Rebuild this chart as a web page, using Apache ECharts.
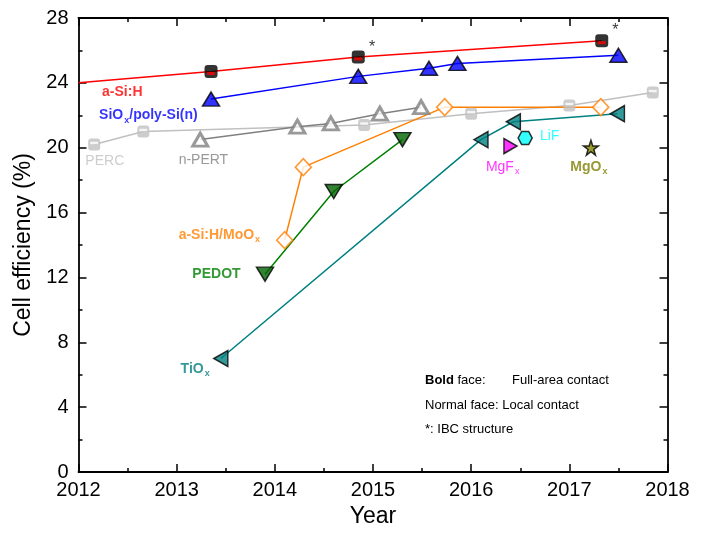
<!DOCTYPE html>
<html>
<head>
<meta charset="utf-8">
<script src="https://cdn.jsdelivr.net/npm/echarts@6/dist/echarts.min.js"></script>
<style>html,body{margin:0;padding:0;background:#fff;}#c{width:705px;height:533px;}</style>
</head>
<body>
<div id="c"></div>
<script>
// ---- data ----
const aSiHStart = [2012, 24.0];
const aSiH = [[2013.35, 24.7], [2014.85, 25.6], [2017.33, 26.6]];
const siox = [[2013.35, 23.0], [2014.85, 24.4], [2015.57, 24.9], [2015.86, 25.2], [2017.50, 25.7]];
const perc = [[2012.16, 20.2], [2012.66, 21.0], [2014.91, 21.4], [2016.0, 22.1], [2017.0, 22.6], [2017.85, 23.4]];
const npert = [[2013.24, 20.5], [2014.23, 21.3], [2014.57, 21.5], [2015.07, 22.1], [2015.49, 22.5]];
const moox = [[2014.10, 14.3], [2014.29, 18.8], [2015.73, 22.5], [2017.32, 22.5]];
const pedot = [[2013.90, 12.2], [2014.60, 17.3], [2015.30, 20.5]];
const tiox = [[2013.45, 7.0], [2016.10, 20.5], [2016.43, 21.6], [2017.49, 22.1]];
const mgfx = [[2016.40, 20.1]];
const lif = [[2016.55, 20.6]];
const mgox = [[2017.22, 20.0]];
const ibcMarks = [[2014.99, 26.2], [2017.47, 27.2]];
const yearTicks = [2012, 2013, 2014, 2015, 2016, 2017, 2018];
const effTicks = [0, 4, 8, 12, 16, 20, 24, 28];

// label anchors (left edge, vertical centre) in data coords
const seriesLabels = [
  { text: 'a-Si:H', at: [2012.24, 23.45], color: '#ff0000', bold: true },
  { text: 'SiO{s|x}/poly-Si(n)', at: [2012.21, 21.98], color: '#0000ff', bold: true },
  { text: 'PERC', at: [2012.07, 19.16], color: '#c0c0c0', bold: false },
  { text: 'n-PERT', at: [2013.02, 19.26], color: '#808080', bold: false },
  { text: 'a-Si:H/MoO{s|x}', at: [2013.02, 14.62], color: '#ff8000', bold: true },
  { text: 'PEDOT', at: [2013.16, 12.21], color: '#008000', bold: true },
  { text: 'TiO{s|x}', at: [2013.04, 6.34], color: '#008080', bold: true },
  { text: 'MgF{s|x}', at: [2016.15, 18.79], color: '#ff00ff', bold: false },
  { text: 'LiF', at: [2016.70, 20.69], color: '#00ffff', bold: false },
  { text: 'MgO{s|x}', at: [2017.01, 18.79], color: '#808000', bold: true }
];

const FONT = '"Liberation Sans", Arial, sans-serif';
const chart = echarts.init(document.getElementById('c'));

function lineSeries(data, color) {
  return { type: 'line', data: data, symbol: 'none', lineStyle: { color: color, width: 1.5 }, z: 2, animation: false };
}
function markSeries(data, opts) {
  return Object.assign({ type: 'scatter', data: data, z: 5, animation: false }, opts);
}

const hexPath = 'path://M5,0 L15,0 L20,8.66 L15,17.32 L5,17.32 L0,8.66 Z';
const starPath = 'path://M50,0 L61.8,35.1 L98.5,35.1 L68.8,57.1 L79.4,92.3 L50,71 L20.6,92.3 L31.2,57.1 L1.5,35.1 L38.2,35.1 Z';

const series = [
  lineSeries([aSiHStart].concat(aSiH), '#ff0000'),
  lineSeries(siox, '#0000ff'),
  lineSeries(perc, '#c0c0c0'),
  lineSeries(npert, '#808080'),
  lineSeries(moox, '#ff8000'),
  lineSeries(pedot, '#008000'),
  lineSeries(tiox, '#008080'),
  // a-Si:H markers
  markSeries(aSiH, { symbol: 'roundRect', symbolSize: 13, itemStyle: { color: '#000' } }),
  markSeries(aSiH, { symbol: 'rect', symbolSize: [8, 3], symbolOffset: [0, 2], itemStyle: { color: '#ff0000' }, z: 6 }),
  // SiOx
  markSeries(siox, { symbol: 'triangle', symbolSize: [17, 14], itemStyle: { color: '#0000ff', borderColor: '#000', borderWidth: 1.5 } }),
  // PERC
  markSeries(perc, { symbol: 'roundRect', symbolSize: 12, itemStyle: { color: '#c0c0c0' } }),
  markSeries(perc, { symbol: 'rect', symbolSize: [8, 2.5], symbolOffset: [0, -1.5], itemStyle: { color: '#ffffff' }, z: 6 }),
  // n-PERT
  markSeries(npert, { symbol: 'triangle', symbolSize: [15, 13], itemStyle: { color: '#ffffff', borderColor: '#808080', borderWidth: 3 } }),
  // MoOx
  markSeries(moox, { symbol: 'diamond', symbolSize: [16, 17], itemStyle: { color: '#ffffff', borderColor: '#ff8000', borderWidth: 1.6 } }),
  // PEDOT
  markSeries(pedot, { symbol: 'triangle', symbolRotate: 180, symbolSize: [17, 14], itemStyle: { color: '#006400', borderColor: '#000', borderWidth: 1.5 } }),
  // TiOx
  markSeries(tiox, { symbol: 'triangle', symbolRotate: 90, symbolSize: [16, 14], itemStyle: { color: '#008080', borderColor: '#000', borderWidth: 1.5 } }),
  // MgFx
  markSeries(mgfx, { symbol: 'triangle', symbolRotate: -90, symbolSize: [15, 13], itemStyle: { color: '#ff00ff', borderColor: '#000', borderWidth: 1.5 } }),
  // LiF
  markSeries(lif, { symbol: hexPath, symbolSize: [14, 13], itemStyle: { color: '#00ffff', borderColor: '#000', borderWidth: 1.5 } }),
  // MgOx
  markSeries(mgox, { symbol: starPath, symbolSize: 15, itemStyle: { color: '#808000', borderColor: '#000', borderWidth: 1.5 } }),
  // IBC asterisks
  markSeries(ibcMarks, { symbolSize: 0, label: { show: true, position: 'inside', formatter: '*', color: '#000', fontSize: 16, fontFamily: FONT } }),
  // text labels
  {
    type: 'scatter', symbolSize: 0, z: 7, animation: false,
    data: seriesLabels.map(function (l) {
      return {
        value: l.at,
        label: {
          show: true, position: 'right', distance: 0,
          formatter: l.text,
          color: l.color, fontSize: 14, fontWeight: l.bold ? 'bold' : 'normal', fontFamily: FONT,
          lineHeight: 16,
          rich: { s: { fontSize: 9, color: l.color, fontWeight: l.bold ? 'bold' : 'normal', fontFamily: FONT, padding: [9, 0, 0, 1], lineHeight: 10 } }
        }
      };
    })
  }
];

const axisLineStyle = { color: '#000', width: 1.8 };
const tickStyle = { color: '#000', width: 1.5 };
chart.setOption({
  backgroundColor: '#fff',
  animation: false,
  grid: { left: 78.5, right: 37.5, top: 18, bottom: 59.5, containLabel: false },
  xAxis: [
    {
      type: 'value', min: yearTicks[0], max: yearTicks[yearTicks.length - 1], interval: 1,
      name: 'Year', nameLocation: 'middle', nameGap: 33,
      nameTextStyle: { fontSize: 23, fontFamily: FONT, color: '#000' },
      axisLine: { show: true, onZero: false, lineStyle: axisLineStyle },
      axisTick: { show: true, inside: true, length: 8, lineStyle: tickStyle },
      minorTick: { show: true, splitNumber: 2, length: 4, lineStyle: tickStyle },
      axisLabel: { fontSize: 20, fontFamily: FONT, color: '#000', margin: 8, formatter: function (v) { return String(v); } },
      splitLine: { show: false }
    },
    {
      type: 'value', position: 'top', min: yearTicks[0], max: yearTicks[yearTicks.length - 1], interval: 1,
      axisLine: { show: true, onZero: false, lineStyle: axisLineStyle },
      axisTick: { show: true, inside: true, length: 8, lineStyle: tickStyle },
      minorTick: { show: true, splitNumber: 2, length: 4, lineStyle: tickStyle },
      axisLabel: { show: false }, splitLine: { show: false }
    }
  ],
  yAxis: [
    {
      type: 'value', min: effTicks[0], max: effTicks[effTicks.length - 1], interval: 4,
      name: 'Cell efficiency (%)', nameLocation: 'middle', nameGap: 35,
      nameTextStyle: { fontSize: 23, fontFamily: FONT, color: '#000' },
      axisLine: { show: true, onZero: false, lineStyle: axisLineStyle },
      axisTick: { show: true, inside: true, length: 8, lineStyle: tickStyle },
      minorTick: { show: true, splitNumber: 2, length: 4, lineStyle: tickStyle },
      axisLabel: { fontSize: 20, fontFamily: FONT, color: '#000', margin: 10 },
      splitLine: { show: false }
    },
    {
      type: 'value', position: 'right', min: effTicks[0], max: effTicks[effTicks.length - 1], interval: 4,
      axisLine: { show: true, onZero: false, lineStyle: axisLineStyle },
      axisTick: { show: true, inside: true, length: 8, lineStyle: tickStyle },
      minorTick: { show: true, splitNumber: 2, length: 4, lineStyle: tickStyle },
      axisLabel: { show: false }, splitLine: { show: false }
    }
  ],
  graphic: [
    { type: 'text', left: 425, top: 374, style: { text: '{b|Bold} face:', rich: { b: { fontWeight: 'bold', fontSize: 13, fontFamily: FONT, fill: '#000' } }, fontSize: 13, fontFamily: FONT, fill: '#000' } },
    { type: 'text', left: 512, top: 374, style: { text: 'Full-area contact', fontSize: 13, fontFamily: FONT, fill: '#000' } },
    { type: 'text', left: 425, top: 398.5, style: { text: 'Normal face: Local contact', fontSize: 13, fontFamily: FONT, fill: '#000' } },
    { type: 'text', left: 425, top: 423, style: { text: '*: IBC structure', fontSize: 13, fontFamily: FONT, fill: '#000' } }
  ],
  series: series
});
</script>
</body>
</html>
